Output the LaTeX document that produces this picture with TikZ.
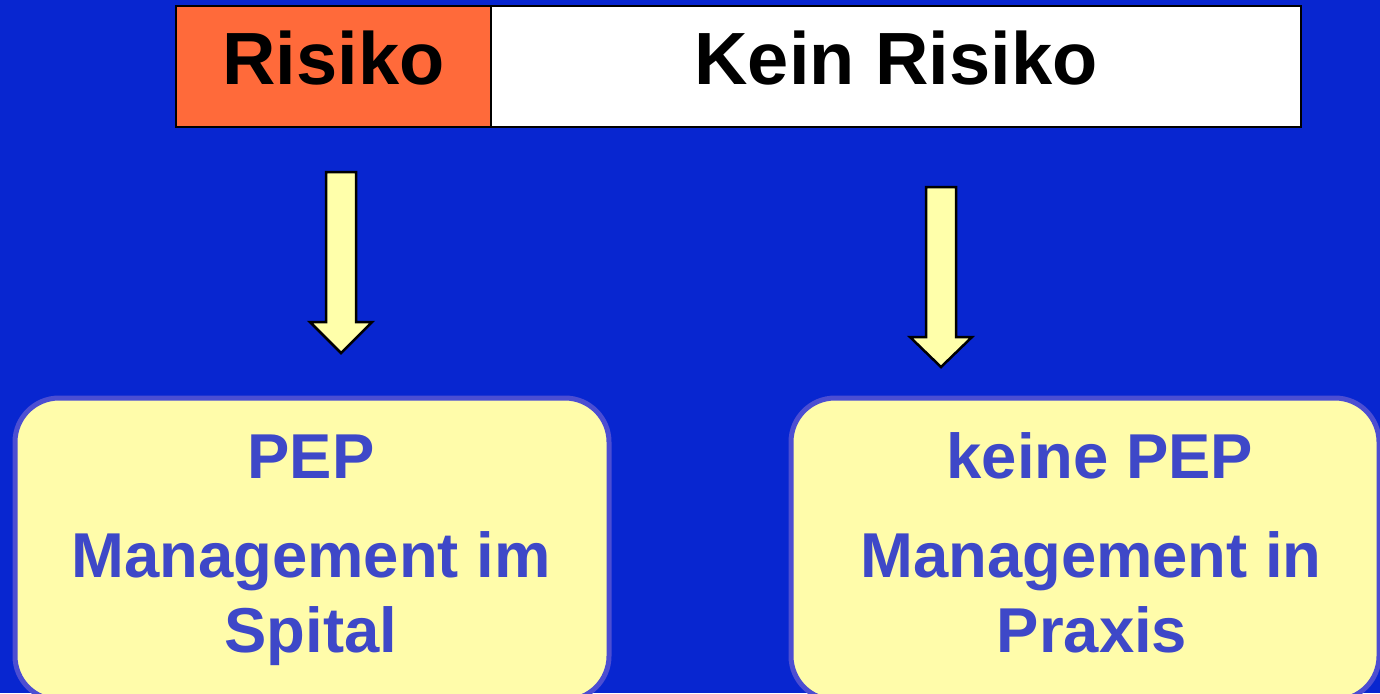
\documentclass[tikz,border=0pt]{standalone}
\usepackage{fontspec}
\setmainfont{Liberation Sans}

\definecolor{bgblue}{RGB}{8,38,208}
\definecolor{riskorange}{RGB}{255,106,58}
\definecolor{pepyellow}{RGB}{255,252,170}
\definecolor{arrowyellow}{RGB}{255,255,170}
\definecolor{pepborder}{RGB}{76,78,210}
\definecolor{pepink}{RGB}{62,72,200}

\begin{document}
\begin{tikzpicture}[x=0.5pt, y=-0.5pt,
    barbox/.style={draw=black, line width=1.25pt, inner sep=0pt,
      minimum height=60.5pt, text height=26.5pt, text depth=9pt,
      font=\fontsize{37}{44}\selectfont\bfseries},
    pepbox/.style={draw=pepborder, fill=pepyellow, line width=2.5pt,
      rounded corners=22pt, minimum height=151pt},
    pepline/.style={anchor=base, inner sep=0pt, text=pepink,
      font=\fontsize{31.7}{38}\selectfont\bfseries},
    blockarrow/.style={draw=black, fill=arrowyellow, line width=1.25pt,
      line join=miter}]

    % --- sfondo ---
    \fill[bgblue] (0,0) rectangle (1380,693);
    \useasboundingbox (0,0) rectangle (1380,693);
    \clip (0,0) rectangle (1380,693);

    % --- barra in alto ---
    \node[barbox, fill=riskorange, minimum width=157.5pt] (risiko) at (333.5,66.5) {Risiko};
    \node[barbox, fill=white, minimum width=405pt] (keinrisiko) at (896,66.5) {Kein Risiko};

    % --- frecce ---
    \draw[blockarrow] (326,172) -- (356,172) -- (356,322) -- (372,322)
      -- (341,353) -- (310,322) -- (326,322) -- cycle;
    \draw[blockarrow] (926,187) -- (956,187) -- (956,337) -- (972,337)
      -- (941,367) -- (910,337) -- (926,337) -- cycle;

    % --- riquadri in basso ---
    \node[pepbox, minimum width=297pt] (spital) at (312,549) {};
    \node[pepbox, minimum width=294pt] (praxis) at (1085,549) {};

    \node[pepline] (pep) at (311,478) {PEP};
    \node[pepline] (mgmtim) at (311,577) {Management im};
    \node[pepline] (spitaltext) at (311,652) {Spital};

    \node[pepline] (keinepep) at (1100,478) {keine PEP};
    \node[pepline] (mgmtin) at (1091,577) {Management in};
    \node[pepline] (praxistext) at (1092,652) {Praxis};
\end{tikzpicture}
\end{document}
